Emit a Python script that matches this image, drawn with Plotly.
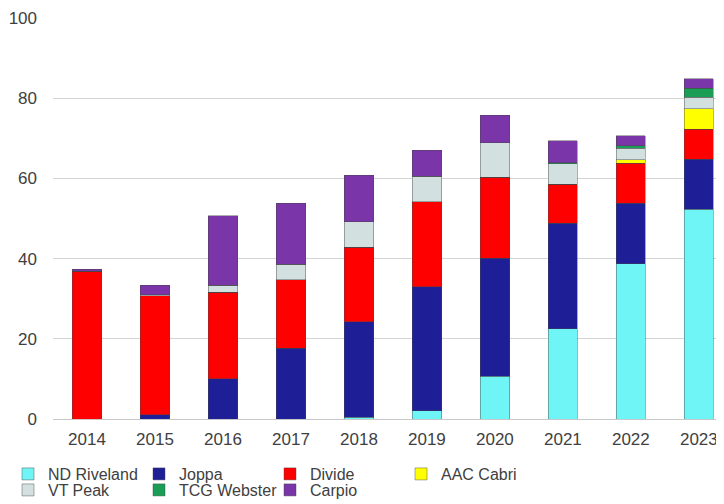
import plotly.graph_objects as go

years = ["2014", "2015", "2016", "2017", "2018", "2019", "2020", "2021", "2022", "2023"]

nd_riveland = [0, 0, 0, 0, 0.5, 2.0, 10.7, 22.5, 38.7, 52.3]
joppa       = [0, 1.0, 10.1, 17.6, 23.8, 31.0, 29.4, 26.3, 15.1, 12.5]
divide      = [36.9, 29.7, 21.5, 17.1, 18.5, 21.2, 20.2, 9.8, 10.0, 7.5]
aac_cabri   = [0, 0, 0, 0, 0, 0, 0, 0, 0.8, 5.1]
vt_peak     = [0, 0.3, 1.8, 3.9, 6.4, 6.3, 8.6, 5.0, 2.9, 2.8]
tcg_webster = [0, 0, 0, 0, 0, 0, 0, 0.3, 0.6, 2.3]
carpio      = [0.4, 2.4, 17.3, 15.2, 11.6, 6.5, 6.9, 5.5, 2.5, 2.3]

series = [
    ("ND Riveland", nd_riveland, "#6ff5f5", "legend"),
    ("Joppa", joppa, "#1e1e96", "legend"),
    ("Divide", divide, "#ff0000", "legend"),
    ("AAC Cabri", aac_cabri, "#ffff00", "legend"),
    ("VT Peak", vt_peak, "#d3e0e0", "legend2"),
    ("TCG Webster", tcg_webster, "#1a9e55", "legend2"),
    ("Carpio", carpio, "#7a35a8", "legend2"),
]

FONT = "Liberation Sans, Arial, sans-serif"

fig = go.Figure()
for name, vals, col, lg in series:
    fig.add_trace(go.Bar(
        x=years, y=vals, name=name, legend=lg,
        marker=dict(color=col, line=dict(color="rgba(70,70,70,0.55)", width=0.8)),
        width=0.43,
    ))

legend_common = dict(orientation="h", xref="container", yref="container",
                     xanchor="left", yanchor="middle",
                     entrywidth=86, entrywidthmode="pixels", itemwidth=30,
                     font=dict(size=16, color="#404040", family=FONT),
                     traceorder="normal", bgcolor="rgba(0,0,0,0)")

fig.update_layout(
    barmode="stack",
    width=724, height=504,
    margin=dict(l=45, r=8, t=10, b=93, autoexpand=False),
    paper_bgcolor="white", plot_bgcolor="white",
    font=dict(family=FONT, color="#404040"),
    xaxis=dict(range=[-0.5, 9.37], showgrid=False, showline=False, ticks="",
               automargin=False, ticklabelstandoff=8, ticklabeloverflow="allow",
               tickfont=dict(size=17, color="#404040")),
    yaxis=dict(range=[0, 100], dtick=20, showgrid=True, gridcolor="#d4d4d4", gridwidth=1,
               zeroline=True, zerolinecolor="#c8c8c8", zerolinewidth=1, automargin=False,
               ticklabeloverflow="allow",
               ticks="", tickfont=dict(size=17, color="#404040"), ticklabelstandoff=15),
    legend=dict(x=-0.032, y=1 - 466 / 504, **legend_common),
    legend2=dict(x=-0.032, y=1 - 482 / 504, **legend_common),
    bargap=0.57,
)

fig.write_html("out.html")
